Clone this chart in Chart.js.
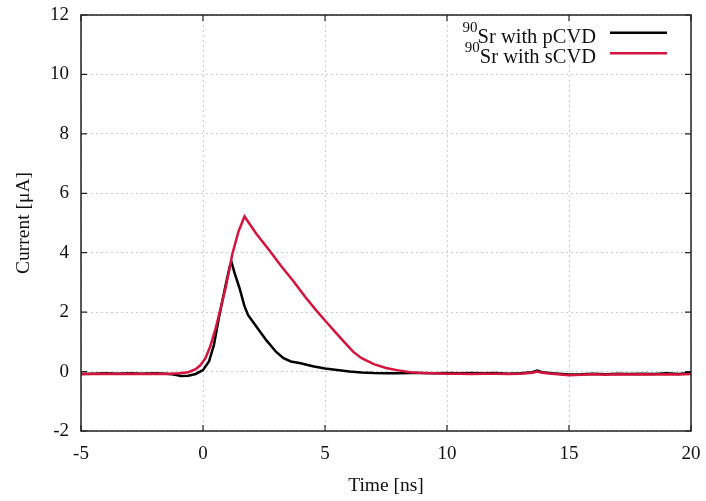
<!DOCTYPE html>
<html><head><meta charset="utf-8">
<script src="https://cdn.jsdelivr.net/npm/chart.js@4"></script>
<style>html,body{margin:0;padding:0;background:#fff}#wrap{width:706px;height:501px}</style>
</head><body><div id="wrap"><canvas id="c" width="706" height="501"></canvas></div>
<script>
const xTickValues = [-5, 0, 5, 10, 15, 20];
const yTickValues = [-2, 0, 2, 4, 6, 8, 10, 12];
const isotope = '90';
const seriesNames = ['Sr with pCVD', 'Sr with sCVD'];
const seriesColors = ['#000000', '#d4143c'];

const pcvdTime = [-5,-4.5,-4,-3.5,-3,-2.5,-2,-1.5,-1.2,-0.9,-0.6,-0.3,0,0.25,0.45,0.65,0.9,1.1,1.17,1.3,1.5,1.7,1.85,2.2,2.6,3.0,3.3,3.6,4.0,4.5,5.0,5.5,6,6.5,7,7.5,8,8.5,9,9.5,10,10.5,11,11.5,12,12.5,13,13.5,13.7,13.9,14.3,15,15.5,16,16.5,17,17.5,18,18.5,19,19.5,20];
const pcvdCurrent = [-0.08,-0.07,-0.06,-0.07,-0.06,-0.07,-0.06,-0.07,-0.1,-0.15,-0.14,-0.08,0.05,0.35,0.9,1.8,2.8,3.55,3.68,3.3,2.8,2.2,1.9,1.5,1.05,0.66,0.45,0.34,0.28,0.18,0.1,0.05,0.0,-0.03,-0.05,-0.06,-0.06,-0.05,-0.05,-0.06,-0.05,-0.06,-0.05,-0.06,-0.05,-0.07,-0.06,-0.02,0.03,-0.02,-0.06,-0.1,-0.09,-0.07,-0.09,-0.07,-0.08,-0.07,-0.08,-0.06,-0.08,-0.04];

const scvdTime = [-5,-4.5,-4,-3.5,-3,-2.5,-2,-1.5,-1,-0.6,-0.3,-0.1,0.1,0.3,0.5,0.7,0.95,1.2,1.45,1.7,2.2,2.7,3.2,3.7,4.2,4.65,5.0,5.45,5.8,6.15,6.5,7.0,7.5,8.0,8.5,9,9.5,10,10.5,11,11.5,12,12.5,13,13.5,13.7,13.9,14.3,15,15.5,16,16.5,17,17.5,18,18.5,19,19.5,20];
const scvdCurrent = [-0.08,-0.08,-0.07,-0.08,-0.07,-0.08,-0.07,-0.08,-0.06,-0.02,0.08,0.22,0.45,0.85,1.4,2.05,2.9,3.95,4.7,5.22,4.62,4.1,3.55,3.05,2.5,2.05,1.72,1.3,0.98,0.67,0.45,0.25,0.12,0.04,-0.02,-0.05,-0.06,-0.07,-0.07,-0.08,-0.07,-0.07,-0.08,-0.07,-0.04,0.0,-0.04,-0.07,-0.12,-0.11,-0.09,-0.11,-0.09,-0.1,-0.09,-0.1,-0.09,-0.1,-0.08];

const SERIF = '"Liberation Serif", "DejaVu Serif", serif';

const framePlugin = {
  id: 'frame',
  afterDatasetsDraw(chart) {
    const {ctx, chartArea: ca, scales} = chart;
    ctx.save();
    ctx.strokeStyle = '#222';
    ctx.lineWidth = 1.5;
    ctx.strokeRect(ca.left, ca.top, ca.right - ca.left, ca.bottom - ca.top);
    ctx.lineWidth = 1.2;
    ctx.beginPath();
    const tl = 6;
    xTickValues.forEach(v => {
      const px = scales.x.getPixelForValue(v);
      ctx.moveTo(px, ca.bottom); ctx.lineTo(px, ca.bottom - tl);
      ctx.moveTo(px, ca.top); ctx.lineTo(px, ca.top + tl);
    });
    yTickValues.forEach(v => {
      const py = scales.y.getPixelForValue(v);
      ctx.moveTo(ca.left, py); ctx.lineTo(ca.left + tl, py);
      ctx.moveTo(ca.right, py); ctx.lineTo(ca.right - tl, py);
    });
    ctx.stroke();
    // legend
    const textRight = ca.right - 95;
    const rows = [ca.top + 17.7, ca.top + 38.3];
    seriesNames.forEach((name, i) => {
      const ly = rows[i];
      ctx.strokeStyle = seriesColors[i];
      ctx.lineWidth = 2.5;
      ctx.beginPath();
      ctx.moveTo(ca.right - 81, ly); ctx.lineTo(ca.right - 24, ly);
      ctx.stroke();
      ctx.fillStyle = '#111';
      ctx.textAlign = 'right';
      ctx.textBaseline = 'middle';
      ctx.font = '20.5px ' + SERIF;
      ctx.fillText(name, textRight, ly + 4.8);
      const w = ctx.measureText(name).width;
      ctx.font = '15px ' + SERIF;
      ctx.fillText(isotope, textRight - w, ly - 5);
    });
    ctx.restore();
  }
};

new Chart(document.getElementById('c'), {
  type: 'line',
  data: {
    datasets: [
      {
        label: isotope + seriesNames[0],
        data: pcvdTime.map((t, i) => ({x: t, y: pcvdCurrent[i]})),
        borderColor: seriesColors[0], borderWidth: 2.5, pointRadius: 0, tension: 0, fill: false, order: 1
      },
      {
        label: isotope + seriesNames[1],
        data: scvdTime.map((t, i) => ({x: t, y: scvdCurrent[i]})),
        borderColor: seriesColors[1], borderWidth: 2.5, pointRadius: 0, tension: 0, fill: false, order: 0
      }
    ]
  },
  options: {
    responsive: false,
    devicePixelRatio: 1,
    animation: false,
    layout: {padding: {top: 15, right: 15, left: 0, bottom: 0}},
    plugins: {legend: {display: false}, tooltip: {enabled: false}},
    scales: {
      x: {
        type: 'linear', min: -5, max: 20,
        afterBuildTicks(s) { s.ticks = xTickValues.map(v => ({value: v})); },
        ticks: {color: '#111', font: {family: SERIF, size: 19}, padding: 12, maxRotation: 0},
        grid: {color: '#cccccc', lineWidth: 1, drawTicks: false},
        border: {display: false, dash: [2, 3]},
        title: {display: true, text: 'Time [ns]', color: '#111', font: {family: SERIF, size: 19.5}, padding: {top: 0, bottom: 3}},
        afterFit(s) { s.height = 70; s.paddingLeft = 0; s.paddingRight = 0; }
      },
      y: {
        type: 'linear', min: -2, max: 12,
        afterBuildTicks(s) { s.ticks = yTickValues.map(v => ({value: v})); },
        ticks: {color: '#111', font: {family: SERIF, size: 19}, padding: 12},
        grid: {color: '#cccccc', lineWidth: 1, drawTicks: false},
        border: {display: false, dash: [2, 3]},
        title: {display: true, text: 'Current [μA]', color: '#111', font: {family: SERIF, size: 19.5}, padding: {top: 12, bottom: 0}},
        afterFit(s) { s.width = 81; s.paddingTop = 0; s.paddingBottom = 0; }
      }
    }
  },
  plugins: [framePlugin]
});
</script>
</body></html>
